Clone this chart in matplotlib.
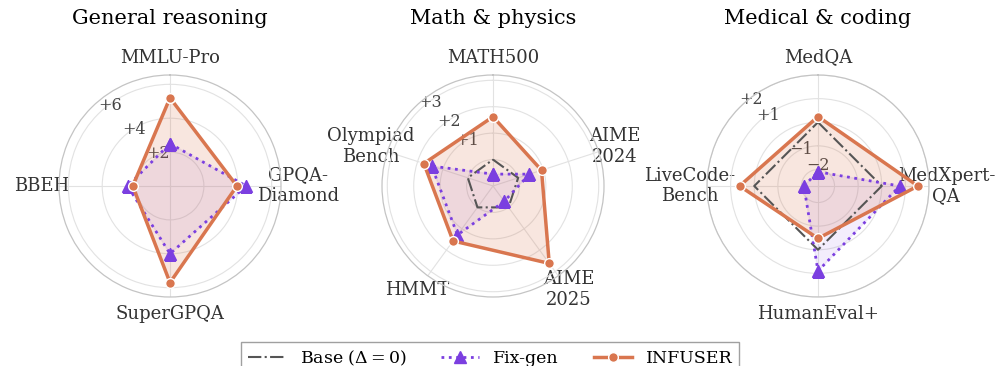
import numpy as np
import matplotlib
matplotlib.use("Agg")
import matplotlib.pyplot as plt
from matplotlib.lines import Line2D

plt.rcParams["font.family"] = "DejaVu Serif"
plt.rcParams["mathtext.fontset"] = "dejavuserif"

# ---- data: gains over the base model (delta, points) ----
titles = ["General reasoning", "Math & physics", "Medical & coding"]

cats_general = ["MMLU-Pro", "GPQA-\nDiamond", "SuperGPQA", "BBEH"]
fix_general = [2.5, 4.5, 4.0, 2.5]
inf_general = [5.2, 3.95, 5.7, 2.2]

cats_math = ["MATH500", "AIME\n2024", "AIME\n2025", "HMMT", "Olympiad\nBench"]
fix_math = [-0.55, 0.45, -0.28, 1.29, 1.44]
inf_math = [1.62, 0.93, 2.62, 1.57, 1.75]

cats_med = ["MedQA", "MedXpert-\nQA", "HumanEval+", "LiveCode-\nBench"]
fix_med = [-2.1, 0.76, 0.9, -2.1]
inf_med = [0.24, 1.53, -0.48, 0.62]

rticks_general = [2, 4, 6]
rticks_math = [0, 1, 2, 3]
rticks_med = [-2, -1, 0, 1, 2]

rlims = [(0, 6.55), (-1.0, 3.2), (-2.7, 2.0)]

C_INF = "#D9764F"
C_FIX = "#7B3FE0"
C_BASE = "#555555"

panels = [
    (cats_general, fix_general, inf_general, rticks_general),
    (cats_math, fix_math, inf_math, rticks_math),
    (cats_med, fix_med, inf_med, rticks_med),
]


def tick_text(v):
    if v == 0:
        return ""
    return f"+{v}" if v > 0 else f"\u2212{abs(v)}"


fig = plt.figure(figsize=(9.99, 3.66), dpi=100)

centers_x = [170, 493, 818]
size = 222 / 999
h = 222 / 366
bottom = (366 - 186 - 111) / 366

for i, (cats, fix, inf, rt) in enumerate(panels):
    left = (centers_x[i] - 111) / 999
    ax = fig.add_axes([left, bottom, size, h], projection="polar")
    ax.set_theta_zero_location("N")
    ax.set_theta_direction(-1)

    n = len(cats)
    ang = np.linspace(0, 2 * np.pi, n, endpoint=False)
    ang_c = np.concatenate([ang, ang[:1]])

    fix_c = np.concatenate([fix, fix[:1]])
    inf_c = np.concatenate([inf, inf[:1]])
    base_c = np.zeros(n + 1)

    ax.fill(ang_c, fix_c, color=C_FIX, alpha=0.09, zorder=2)
    ax.fill(ang_c, inf_c, color=C_INF, alpha=0.18, zorder=2)

    ax.plot(ang_c, base_c, color=C_BASE, lw=1.5, ls="-.", zorder=3)
    ax.plot(ang_c, fix_c, color=C_FIX, lw=2, ls=":", marker="^",
            markersize=8, zorder=4)
    ax.plot(ang_c, inf_c, color=C_INF, lw=2.5, marker="o", markersize=7,
            markeredgecolor="white", markeredgewidth=1.0, zorder=5)

    ax.set_ylim(*rlims[i])
    ax.set_yticks(rt)
    ax.set_yticklabels([tick_text(v) for v in rt], fontsize=11.5, color="#444444")
    ax.set_rlabel_position(315)

    ax.set_xticks(ang)
    ax.set_xticklabels(cats, fontsize=13, color="#333333")
    ax.tick_params(axis="x", pad=2)

    ax.grid(color="#e2e2e2", lw=0.8)
    ax.spines["polar"].set_color("#c4c4c4")
    ax.spines["polar"].set_linewidth(0.9)

    fig.text(centers_x[i] / 999, 1 - 19 / 366, titles[i], ha="center",
             va="center", fontsize=15)

handles = [
    Line2D([], [], color=C_BASE, lw=1.5, ls="-."),
    Line2D([], [], color=C_FIX, lw=2, ls=":", marker="^", markersize=8),
    Line2D([], [], color=C_INF, lw=2.5, marker="o", markersize=7,
           markeredgecolor="white", markeredgewidth=1.0),
]
labels = [r"Base ($\Delta = 0$)", "Fix-gen", "INFUSER"]
leg = fig.legend(handles, labels, loc="upper center", ncol=3,
                 bbox_to_anchor=(490 / 999, 1 - 333 / 366), fontsize=12.5,
                 frameon=True, fancybox=False, edgecolor="#888888",
                 columnspacing=2.0, handlelength=2.2, borderpad=0.4)
leg.get_frame().set_linewidth(1.0)

fig.savefig("out.png", dpi=100)
